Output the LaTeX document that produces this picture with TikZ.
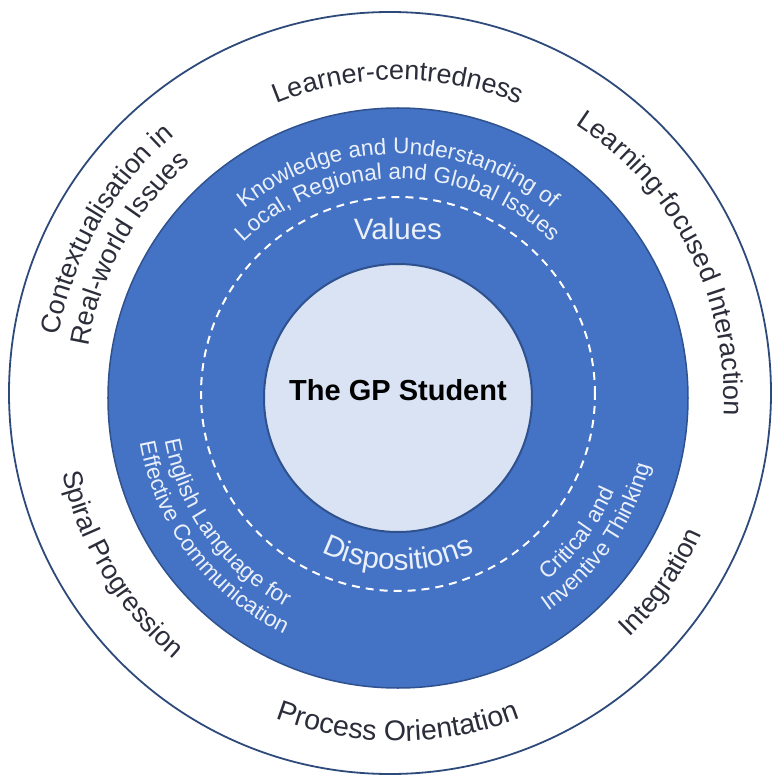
\documentclass[tikz,border=0pt]{standalone}
\usepackage{fontspec}
\setmainfont{Liberation Sans}
\usetikzlibrary{positioning,decorations.text}
\definecolor{RingBlue}{HTML}{4472C4}
\definecolor{RingEdge}{HTML}{2F528F}
\definecolor{FrameEdge}{HTML}{2E4A7A}
\definecolor{CoreFill}{HTML}{DAE3F3}
\definecolor{LabelGrey}{HTML}{2B2D3A}
\definecolor{RingText}{HTML}{EAF0FA}
\newcommand{\outerfont}{\fontsize{27}{31}\selectfont}
\newcommand{\bigouterfont}{\fontsize{28.5}{32}\selectfont}
\newcommand{\ringfont}{\fontsize{22.5}{26}\selectfont}
\newcommand{\midfont}{\fontsize{29.5}{33}\selectfont}
\tikzset{%
  outer disc/.style={circle, draw=FrameEdge, line width=1.8pt, fill=white, inner sep=0pt, minimum size=762pt},
  ring disc/.style={circle, draw=RingEdge, line width=1.5pt, fill=RingBlue, inner sep=0pt, minimum size=580pt},
  split circle/.style={circle, draw=white, line width=2pt, dash pattern=on 8pt off 6pt, inner sep=0pt, minimum size=394pt},
  core disc/.style={circle, draw=RingEdge, line width=2pt, fill=CoreFill, inner sep=0pt, minimum size=268pt},
  student/.style={font=\fontsize{29}{33}\selectfont\bfseries, text=black, inner sep=0pt},
  mid label/.style={font=\midfont, text=RingText, inner sep=0pt},
  outer text/.style={decorate, decoration={text along path, text align=center, text color=LabelGrey, text={|\outerfont|#1}}},
  big outer text/.style={decorate, decoration={text along path, text align=center, text color=LabelGrey, text={|\bigouterfont|#1}}},
  ring text/.style={decorate, decoration={text along path, text align=center, text color=RingText, text={|\ringfont|#1}}},
  mid text/.style={decorate, decoration={text along path, text align=center, text color=RingText, text={|\midfont|#1}}}
}
\begin{document}
\begin{tikzpicture}
 \useasboundingbox (-398pt,-384pt) rectangle (374pt,398pt);

 \node[outer disc] (frame) at (-8pt,5pt) {};
 \node[ring disc] (ring) at (0,0) {};
 \node[split circle] (split) at (0,4pt) {};
 \node[core disc] (core) at (0,0) {};
 \node[student] (gp) at ([yshift=8pt]core.center) {The GP Student};
 \node[mid label, above=23pt of core] (values) {Values};
 \path[mid text={Dispositions}] (210:172pt) arc[start angle=210, end angle=330, radius=172pt];

 % outer ring, read clockwise
 \path[outer text={Learner-centredness}] (150:318pt) arc[start angle=150, end angle=30, radius=318pt];
 \path[outer text={Contextualisation in}] (210:345pt) arc[start angle=210, end angle=90, radius=345pt];
 \path[outer text={Real-world Issues}] (211:314pt) arc[start angle=211, end angle=91, radius=314pt];
 \path[outer text={Learning-focused Interaction}] (87:326pt) arc[start angle=87, end angle=-33, radius=326pt];

 % outer ring, read anticlockwise
 \path[outer text={Spiral Progression}] (151:344pt) arc[start angle=151, end angle=271, radius=344pt];
 \path[big outer text={Process Orientation}] (210:343pt) arc[start angle=210, end angle=330, radius=343pt];
 \path[outer text={Integration}] (-95:333pt) arc[start angle=-95, end angle=25, radius=333pt];

 % blue ring
 \path[ring text={Knowledge and Understanding of}] (150:244pt) arc[start angle=150, end angle=30, radius=244pt];
 \path[ring text={Local, Regional and Global Issues}] (150:219pt) arc[start angle=150, end angle=30, radius=219pt];
 \path[ring text={English Language for}] (156:237pt) arc[start angle=156, end angle=276, radius=237pt];
 \path[ring text={Effective Communication}] (157:262pt) arc[start angle=157, end angle=277, radius=262pt];
 \path[ring text={Critical and}] (-97:236pt) arc[start angle=-97, end angle=23, radius=236pt];
 \path[ring text={Inventive Thinking}] (-95:261pt) arc[start angle=-95, end angle=25, radius=261pt];

\end{tikzpicture}
\end{document}
